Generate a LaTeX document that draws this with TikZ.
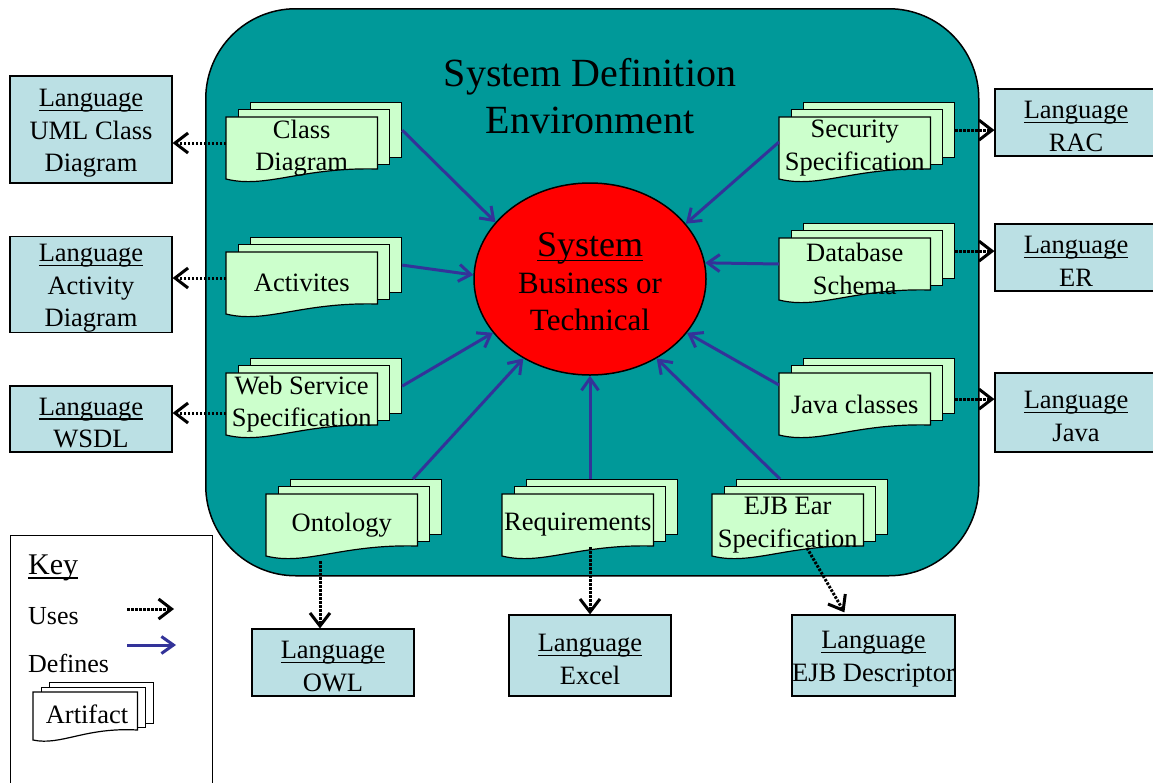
\documentclass[tikz,border=0pt]{standalone}
\usepackage{fontspec}
\setmainfont{Liberation Serif}
\usetikzlibrary{shapes.geometric,arrows.meta,calc}
\definecolor{envteal}{RGB}{0,153,153}
\definecolor{langblue}{RGB}{187,224,228}
\definecolor{pagegreen}{RGB}{204,255,204}
\definecolor{defblue}{RGB}{51,51,153}
\newcommand{\fs}{\fontsize{26.5}{32.5}\selectfont}
\newcommand{\uln}[1]{\leavevmode\setbox0=\hbox{#1}\rlap{\rule[-4.5pt]{\wd0}{1.5pt}}\box0}
\newcommand{\lng}{\rule{0pt}{25pt}\uln{Language}}
\tikzset{
  page/.style={draw=black, line width=1.2pt, fill=pagegreen, rectangle, inner sep=0pt,
    minimum width=151pt, minimum height=55pt, anchor=north west},
  frontpage/.style={draw=black, line width=1.2pt, fill=pagegreen},
  lang/.style={draw=black, line width=1.2pt, fill=langblue, align=center, inner sep=0pt, font=\fs},
  arttext/.style={align=center, font=\fs, inner sep=0pt},
  uses/.style={line width=3pt, dash pattern=on 2.5pt off 1.5pt,
    -{Straight Barb[length=13pt,width=20pt,line width=3pt]}},
  defines/.style={line width=3pt, draw=defblue,
    -{Straight Barb[length=12pt,width=17pt,line width=3pt]}},
}
% #1 name, #2 x, #3 y (top-left of front page), #4 text
\newcommand{\artifact}[4]{%
  \node[page] (#1-b) at (#2+24,#3-15) {};
  \node[page] (#1-m) at (#2+12,#3-8) {};
  \node[draw=none, fill=none, inner sep=0pt, minimum width=151pt, minimum height=63pt,
    anchor=north west] (#1) at (#2,#3) {};
  \path[frontpage] (#1.north west) -- (#1.north east) -- ([yshift=-52pt]#1.north east)
    .. controls ([xshift=75pt,yshift=-50pt]#1.north west) and ([xshift=40pt,yshift=-72pt]#1.north west)
    .. ([yshift=-62pt]#1.north west) -- cycle;
  \node[arttext] (#1-t) at ([yshift=-31pt]#1.north) {#4};
}
\begin{document}
\begin{tikzpicture}[x=1pt,y=-1pt]
\useasboundingbox (0,0) rectangle (1153,782);
\fill[white] (0,0) rectangle (1153,782);

% environment
\node[draw=black, line width=1.5pt, fill=envteal, rounded corners=90pt, inner sep=0pt,
  minimum width=773pt, minimum height=567pt, anchor=north west] (env) at (205,8) {};
\node[align=center, inner sep=0pt, font=\fontsize{40}{47}\selectfont] (title) at (590,96)
  {System Definition\\Environment};

% system ellipse
\node[ellipse, draw=black, line width=1.5pt, fill=red, minimum width=232pt, minimum height=192pt,
  inner sep=0pt] (sys) at (590,279) {};
\node[align=center, inner sep=0pt, font=\fontsize{31}{37}\selectfont] (sys-t) at (590,282)
  {{\fontsize{36}{37}\selectfont\uln{System}}\\Business or\\Technical};

% artifacts
\artifact{cd}{226}{117}{Class\\Diagram}
\artifact{act}{226}{252}{Activites}
\artifact{ws}{226}{373}{Web Service\\Specification}
\artifact{sec}{779}{117}{Security\\Specification}
\artifact{db}{779}{238}{Database\\Schema}
\artifact{jv}{779}{373}{Java classes}
\artifact{ont}{266}{494}{Ontology}
\artifact{req}{502}{494}{Requirements}
\artifact{ejb}{712}{494}{EJB Ear\\Specification}

% language boxes
\node[lang, minimum width=162pt, minimum height=107pt] (uml) at (91,129.5) {\lng\\UML Class\\Diagram};
\node[lang, minimum width=162pt, minimum height=93pt] (actd) at (91,284.5) {\lng\\Activity\\Diagram};
\node[lang, minimum width=162pt, minimum height=66pt] (wsdl) at (91,419) {\lng\\WSDL};
\node[lang, minimum width=162pt, minimum height=67pt] (rac) at (1076,122.5) {\lng\\RAC};
\node[lang, minimum width=162pt, minimum height=67pt] (er) at (1076,257.5) {\lng\\ER};
\node[lang, minimum width=162pt, minimum height=79pt] (java) at (1076,412.5) {\lng\\Java};
\node[lang, minimum width=162pt, minimum height=67pt] (owl) at (333,662.5) {\lng\\OWL};
\node[lang, minimum width=162pt, minimum height=81pt] (excel) at (590,655.5) {\lng\\Excel};
\node[lang, minimum width=163pt, minimum height=81pt] (ejbd) at (873.5,655.5) {\lng\\EJB Descriptor};

% defines arrows
\draw[defines] (cd-b.east) -- (sys.149);
\draw[defines] (act-b.east) -- (sys.178);
\draw[defines] (ws-b.east) -- (sys.209);
\draw[defines] ([xshift=123pt]ont-b.north west) -- (sys.230);
\draw[defines] ([xshift=64pt]req-b.north west) -- (sys.270);
\draw[defines] ([xshift=44pt]ejb-b.north west) -- (sys.310);
\draw[defines] ([yshift=-12pt]jv.north west) -- (sys.331);
\draw[defines] ([yshift=-26pt]db.north west) -- (sys.8);
\draw[defines] ([yshift=-25pt]sec.north west) -- (sys.30);

% uses arrows
\coordinate (cd-u) at ([yshift=-26pt]cd.north west);
\coordinate (act-u) at ([yshift=-26pt]act.north west);
\coordinate (ws-u) at ([yshift=-40pt]ws.north west);
\coordinate (jv-u) at ([yshift=-13pt]jv-b.east);
\coordinate (ont-u) at ([xshift=54pt,yshift=-67pt]ont.north west);
\coordinate (req-u) at ([xshift=88pt,yshift=-53pt]req.north west);
\coordinate (ejb-u) at ([xshift=95pt,yshift=-54pt]ejb.north west);
\coordinate (ejbd-in) at ([xshift=53pt,yshift=2pt]ejbd.north west);
\draw[uses] (cd-u) -- (cd-u -| uml.east);
\draw[uses] (act-u) -- (act-u -| actd.east);
\draw[uses] (ws-u) -- (ws-u -| wsdl.east);
\draw[uses] (sec-b.east) -- (sec-b.east -| rac.west);
\draw[uses] (db-b.east) -- (db-b.east -| er.west);
\draw[uses] (jv-u) -- (jv-u -| java.west);
\draw[uses] (ont-u) -- (ont-u |- owl.north);
\draw[uses] (req-u) -- (req-u |- excel.north);
\draw[uses] (ejb-u) -- (ejbd-in);

% key
\node[draw=black, line width=1.2pt, inner sep=0pt, minimum width=202pt, minimum height=260pt,
  anchor=north west] (keybox) at (10,535) {};
\node[anchor=base west, inner sep=0pt, font=\fontsize{30}{30}\selectfont] (key) at (28,574) {\uln{Key}};
\node[anchor=base west, inner sep=0pt, font=\fontsize{26}{30}\selectfont] (kuses) at (28,624) {Uses};
\node[anchor=base west, inner sep=0pt, font=\fontsize{26}{30}\selectfont] (kdef) at (28,672) {Defines};
\coordinate (ku1) at (127,609);
\coordinate (ku2) at (174,609);
\coordinate (kd1) at (127,645);
\coordinate (kd2) at (176,645);
\draw[uses] (ku1) -- (ku2);
\draw[defines] (kd1) -- (kd2);
\node[draw=black, line width=1.2pt, fill=white, inner sep=0pt, minimum width=104pt, minimum height=41pt,
  anchor=north west] (ka-b) at (49,682) {};
\node[draw=black, line width=1.2pt, fill=white, inner sep=0pt, minimum width=104pt, minimum height=40pt,
  anchor=north west] (ka-m) at (41,687) {};
\node[inner sep=0pt, minimum width=104pt, minimum height=48pt, anchor=north west] (ka) at (33,692) {};
\path[draw=black, line width=1.2pt, fill=white] (ka.north west) -- (ka.north east) -- ([yshift=-38pt]ka.north east)
  .. controls ([xshift=52pt,yshift=-35pt]ka.north west) and ([xshift=28pt,yshift=-54pt]ka.north west)
  .. ([yshift=-48pt]ka.north west) -- cycle;
\node[anchor=base, inner sep=0pt, font=\fontsize{26.5}{30}\selectfont] (ka-t) at (87,723) {Artifact};
\end{tikzpicture}
\end{document}
